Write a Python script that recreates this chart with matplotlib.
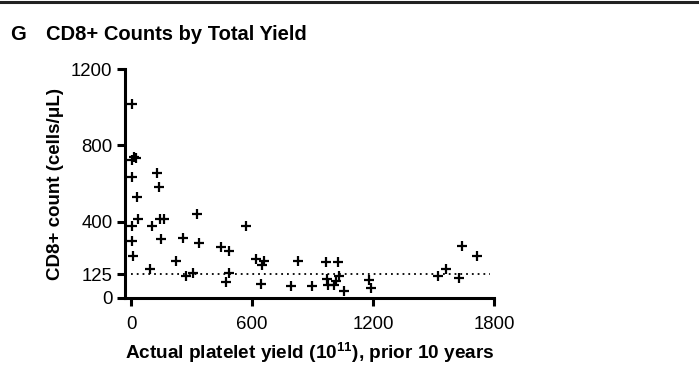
import numpy as np
import matplotlib.pyplot as plt
from matplotlib.lines import Line2D

plt.rcParams['font.family'] = ['Liberation Sans', 'DejaVu Sans']
plt.rcParams['mathtext.fontset'] = 'custom'
plt.rcParams['mathtext.rm'] = 'Liberation Sans'
plt.rcParams['mathtext.bf'] = 'Liberation Sans:bold'

# platelet yield (10^11) over prior 10 years vs CD8+ count (cells/uL)
yield_total = [6, 16, 6, 25, 6, 28, 36, 6, 6, 12,
               94, 103, 130, 139, 144, 165, 149, 223, 256, 273,
               306, 326, 336, 445, 484, 488, 471, 569, 618, 648,
               660, 643, 827, 793, 899, 965, 1028, 973, 978, 1007,
               1017, 1033, 1056, 1180, 1192, 1524, 1560, 1628, 1643, 1717]
cd8_count = [1017, 740, 723, 732, 632, 531, 414, 379, 299, 222,
             152, 379, 657, 580, 414, 414, 308, 196, 313, 117,
             129, 440, 290, 266, 246, 129, 86, 379, 204, 173,
             194, 72, 194, 63, 65, 187, 190, 100, 66, 66,
             89, 115, 38, 94, 54, 115, 150, 103, 274, 220]
cutoff = 125

xticks = [0, 600, 1200, 1800]
yticks = [0, 125, 400, 800, 1200]

fig = plt.figure(figsize=(6.99, 3.84), dpi=100)
ax = fig.add_axes([0.1788, 0.224, 0.528, 0.596])

ax.plot(yield_total, cd8_count, linestyle='none', marker='+',
        markersize=7, markeredgewidth=1.6, color='black', clip_on=False)
ax.plot([0, 1780], [cutoff, cutoff], linestyle=(0, (1, 2.2)),
        linewidth=1.3, color='black')

ax.set_xlim(-30, 1800)
ax.set_ylim(0, 1200)
ax.set_xticks(xticks)
ax.set_yticks(yticks)
ax.tick_params(direction='out', length=6, width=2.2, labelsize=13.4,
               colors='black')
ax.tick_params(axis='x', pad=7)
ax.tick_params(axis='y', pad=3)

for side in ['top', 'right']:
    ax.spines[side].set_visible(False)
for side in ['left', 'bottom']:
    ax.spines[side].set_linewidth(2.2)

ax.set_xlabel(r'Actual platelet yield (10$^{\mathbf{11}}$), prior 10 years',
              fontsize=13.7, fontweight='bold', labelpad=5)
ax.set_ylabel('CD8+ count (cells/μL)', fontsize=13.5, fontweight='bold',
              labelpad=5)

# panel letter and title
fig.text(10 / 699, 0.909, 'G', fontsize=14.5, fontweight='bold',
         va='center', ha='left')
fig.text(46 / 699, 0.909, 'CD8+ Counts by Total Yield', fontsize=14.5,
         fontweight='bold', va='center', ha='left')

# rule across the top of the panel
fig.add_artist(Line2D([0, 1], [0.994, 0.994], transform=fig.transFigure,
                      color='#222222', linewidth=2.2))

fig.savefig('out.png', dpi=100)
